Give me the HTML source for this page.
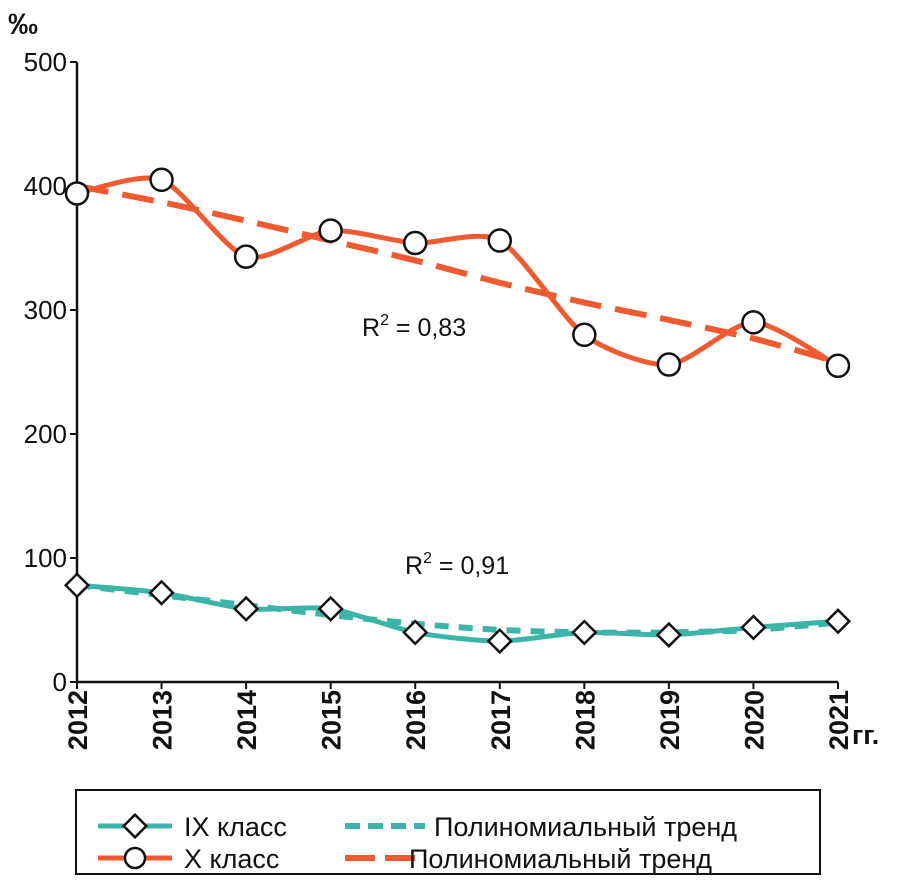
<!DOCTYPE html>
<html><head><meta charset="utf-8">
<style>
body{margin:0;background:#fff;}
svg text{font-family:"Liberation Sans",Arial,sans-serif;fill:#111;}
</style></head>
<body>
<svg width="909" height="891" viewBox="0 0 909 891">
<g id="axes"></g>
<g id="series"></g>
<text x="362" y="336" font-size="25">R<tspan dy="-11" font-size="16">2</tspan><tspan dy="11"> = 0,83</tspan></text>
<text x="405" y="574" font-size="25">R<tspan dy="-11" font-size="16">2</tspan><tspan dy="11"> = 0,91</tspan></text>
<text x="8" y="34" font-size="30" font-weight="bold">‰</text>
<text x="852" y="744" font-size="27" font-weight="bold">гг.</text>
<g>
<rect x="76" y="790" width="744" height="84" fill="#fff" stroke="#111" stroke-width="2"/>
<g>
<line x1="98" y1="826" x2="172" y2="826" stroke="#3bb5a8" stroke-width="5"/>
<rect x="127" y="818" width="16" height="16" transform="rotate(45 135 826)" fill="#fff" stroke="#111" stroke-width="2.5"/>
<text x="184" y="836" font-size="27">IX класс</text></g>
<g>
<line x1="345" y1="826" x2="425" y2="826" stroke="#3bb5a8" stroke-width="6" stroke-dasharray="15,8"/>
<text x="434" y="836" font-size="27">Полиномиальный тренд</text></g>
<g>
<line x1="98" y1="858" x2="172" y2="858" stroke="#f05a30" stroke-width="5"/>
<circle cx="135" cy="858" r="10" fill="#fff" stroke="#111" stroke-width="2.5"/>
<text x="184" y="868" font-size="27">X класс</text></g>
<g>
<line x1="345" y1="858" x2="425" y2="858" stroke="#f05a30" stroke-width="6" stroke-dasharray="30,10"/>
<text x="409" y="868" font-size="27">Полиномиальный тренд</text></g>
</g>
</svg>
<script>
const years=["2012","2013","2014","2015","2016","2017","2018","2019","2020","2021"];
const classX=[394,405,343,364,354,356,280,256,290,255];
const classIX=[78,72,59,59,40,33,40,38,44,49];
const trendX=[400,387,372,356,340,322,306,292,277,258];
const trendIX=[78,70,62,54,47,42,40,40,42,48];
const yTicks=[0,100,200,300,400,500];
const NS="http://www.w3.org/2000/svg";
const X0=77,X1=838,Y0=682,Y1=62;
const xs=i=>X0+i*(X1-X0)/(years.length-1);
const ys=v=>Y0-(v/500)*(Y0-Y1);
function mk(t,a,p){const e=document.createElementNS(NS,t);for(const k in a)e.setAttribute(k,a[k]);p.appendChild(e);return e;}
const ax=document.getElementById('axes'),sg=document.getElementById('series');
const yl=mk('line',{x1:X0,y1:Y1,x2:X0,y2:Y0,stroke:'#111','stroke-width':2.5},ax);


const xl=mk('line',{x1:X0,y1:Y0,x2:X1,y2:Y0,stroke:'#111','stroke-width':2.5},ax);


yTicks.forEach(v=>{
 mk('line',{x1:X0-7,y1:ys(v),x2:X0,y2:ys(v),stroke:'#111','stroke-width':2},ax);
 const t=mk('text',{x:X0-10,y:ys(v)+9,'text-anchor':'end','font-size':26},ax);t.textContent=v;
 
 
});
years.forEach((y,i)=>{
 const x=xs(i);
 mk('line',{x1:x,y1:Y0,x2:x,y2:Y0+7,stroke:'#111','stroke-width':2},ax);
 const t=mk('text',{x:0,y:0,'text-anchor':'end','font-size':27,'font-weight':'bold',transform:`translate(${x+10},690) rotate(-90)`},ax);
 t.textContent=y;
 
 
});
function smooth(vals){
 const p=vals.map((v,i)=>[xs(i),ys(v)]);let d=`M${p[0][0]},${p[0][1]}`;const k=8;
 for(let i=0;i<p.length-1;i++){const a=p[i-1]||p[i],b=p[i],c=p[i+1],e=p[i+2]||c;
  d+=` C${b[0]+(c[0]-a[0])/k},${b[1]+(c[1]-a[1])/k} ${c[0]-(e[0]-b[0])/k},${c[1]-(e[1]-b[1])/k} ${c[0]},${c[1]}`;}
 return d;}
function line(vals,col,dash,name,w){
 const p=mk('path',{d:smooth(vals),fill:'none',stroke:col,'stroke-width':w,'stroke-dasharray':dash||'none'},sg);
 
 }
line(trendX,'#f05a30','32,14','trend-x',6);
line(trendIX,'#3bb5a8','14,10','trend-ix',6);
line(classX,'#f05a30',null,'series-x-class',5);
line(classIX,'#3bb5a8',null,'series-ix-class',5);
classX.forEach((v,i)=>{const c=mk('circle',{cx:xs(i),cy:ys(v),r:11,fill:'#fff',stroke:'#111','stroke-width':2.5},sg);
 
 });
classIX.forEach((v,i)=>{const x=xs(i),y=ys(v);const r=mk('rect',{x:x-8,y:y-8,width:16,height:16,transform:`rotate(45 ${x} ${y})`,fill:'#fff',stroke:'#111','stroke-width':2.5},sg);
 
 });
</script>
</body></html>
